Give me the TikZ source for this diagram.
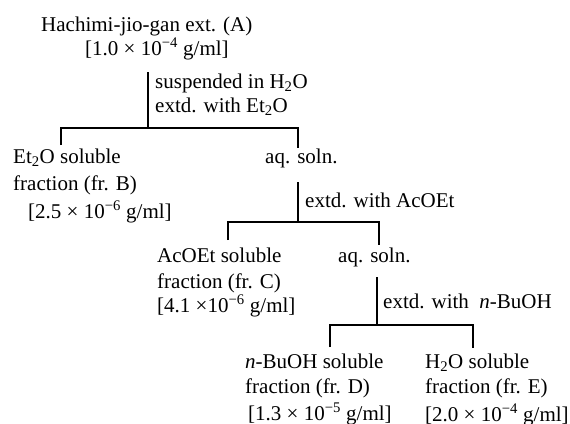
\documentclass[tikz,border=0pt]{standalone}
\usepackage{fontspec}
\setmainfont{Liberation Serif}
\newcommand{\sbt}[1]{\textsubscript{#1}}
\newcommand{\spt}[1]{\textsuperscript{#1}}
\begin{document}
\begin{tikzpicture}[x=1pt,y=-1pt,
  lbl/.style={anchor=base west, inner sep=0pt, align=left, font=\fontsize{21}{26}\selectfont},
  tree/.style={line width=1.6pt, line join=miter}]
\useasboundingbox (0,0) rectangle (570,423);
% texts (anchor = baseline of the last line)
\node[lbl] (A) at (41,55) {Hachimi-jio-gan ext. (A)\\[-2pt]\hspace*{44pt}[1.0 × 10\spt{−4} g/ml]};
\node[lbl] (L1) at (155,112) {suspended in H\sbt{2}O\\[-2pt]extd. with Et\sbt{2}O};
\node[lbl] (B) at (13,218) {Et\sbt{2}O soluble\\[1pt]fraction (fr. B)\\[2pt]\hspace*{15pt}[2.5 × 10\spt{−6} g/ml]};
\node[lbl] (aq1) at (265,163) {aq. soln.};
\node[lbl] (L2) at (305,207) {extd. with AcOEt};
\node[lbl] (C) at (157,312) {AcOEt soluble\\fraction (fr. C)\\[-2pt]{[}4.1 ×10\spt{−6} g/ml]};
\node[lbl] (aq2) at (338,262) {aq. soln.};
\node[lbl] (L3) at (383,308) {extd. with\ \ \textit{n}-BuOH};
\node[lbl] (D) at (245,420) {\textit{n}-BuOH soluble\\[-1pt]fraction (fr. D)\\[1pt]\hspace*{3pt}[1.3 × 10\spt{−5} g/ml]};
\node[lbl] (E) at (425,421) {H\sbt{2}O soluble\\[-1pt]fraction (fr. E)\\[2pt]{[}2.0 × 10\spt{−4} g/ml]};
% tree coordinates
\coordinate (a1) at (148,72);  \coordinate (j1) at (148,128);
\coordinate (b1) at (61,145);  \coordinate (r1) at (298,148);
\coordinate (a2) at (298,182); \coordinate (j2) at (298,222);
\coordinate (b2) at (228,240); \coordinate (r2) at (379,245);
\coordinate (a3) at (377,277); \coordinate (j3) at (377,325);
\coordinate (b3) at (330,347); \coordinate (r3) at (473,348);
% tree lines
\draw[tree] (a1) -- (j1);
\draw[tree] (b1) |- (j1) -| (r1);
\draw[tree] (a2) -- (j2);
\draw[tree] (b2) |- (j2) -| (r2);
\draw[tree] (a3) -- (j3);
\draw[tree] (b3) |- (j3) -| (r3);
\end{tikzpicture}
\end{document}
